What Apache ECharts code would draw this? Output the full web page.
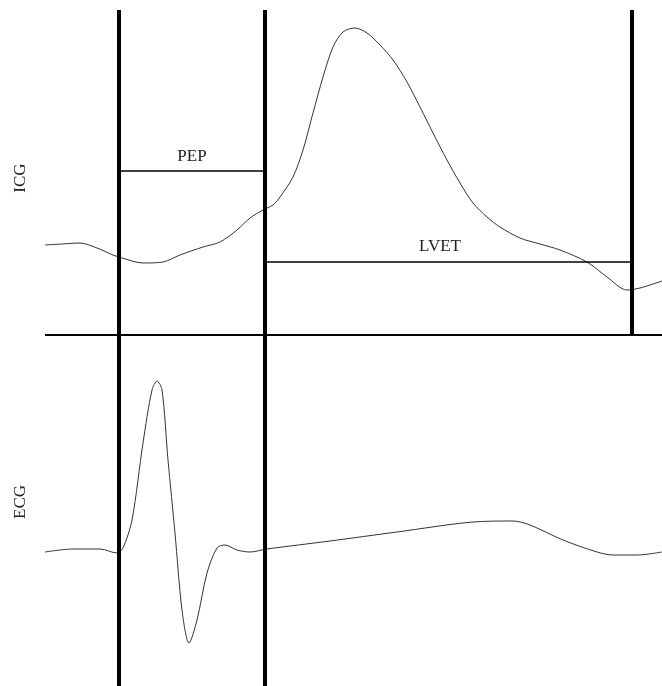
<!DOCTYPE html>
<html>
<head>
<meta charset="utf-8">
<script src="https://cdn.jsdelivr.net/npm/echarts@6/dist/echarts.min.js"></script>
<style>
  html, body { margin: 0; padding: 0; background: #fff; }
  #chart { width: 662px; height: 686px; }
</style>
</head>
<body>
<div id="chart"></div>
<script>
// time axis (sample position) and signal level (screen rows, top = 0)
const icgTime = [45, 62, 80, 97, 113, 122, 143, 163, 180, 203, 220, 237, 250, 263, 273, 280, 293, 303, 313, 323, 333, 343, 355, 367, 380, 393, 407, 420, 433, 447, 460, 473, 487, 500, 520, 540, 560, 587, 607, 627, 640, 662]
const icgLevel = [245, 244, 243, 248, 255, 258, 263, 262, 255, 247, 242, 230, 218, 210, 205, 197, 177, 150, 113, 77, 47, 32, 28, 33, 45, 60, 82, 107, 133, 160, 183, 203, 217, 227, 238, 244, 250, 262, 277, 290, 288, 281]

const ecgTime = [45, 73, 100, 117, 123, 132, 143, 152, 157, 162, 168, 175, 182, 189, 197, 207, 217, 225, 237, 250, 267, 330, 397, 473, 513, 530, 563, 597, 613, 637, 662]
const ecgLevel = [552, 549, 549, 553, 548, 520, 443, 390, 381, 390, 460, 533, 610, 643, 620, 573, 548, 545, 550, 552, 549, 541, 532, 522, 521, 525, 540, 552, 555, 555, 552]

// event markers: Q onset, B point (valve opening), X point (valve closing)
const qOnset = 119
const bPoint = 265
const xPoint = 632
const markerTop = 10
const panelSplit = 335
const pepLevel = 171
const lvetLevel = 262

const pairs = (xs, ys) => xs.map((x, i) => [x, ys[i]])

const chart = echarts.init(document.getElementById('chart'))

const seg = (data, width) => ({
  type: 'line',
  data: data,
  symbol: 'none',
  silent: true,
  lineStyle: { color: '#000', width: width },
  z: 3
})

const label = (text, x, y, rotate) => ({
  type: 'text', x: x, y: y, rotation: rotate ? Math.PI / 2 : 0,
  style: { text: text, font: '17px "Liberation Serif"', fill: '#222', align: 'center', verticalAlign: 'middle' }
})

chart.setOption({
  animation: false,
  grid: { left: 0, right: 0, top: 0, bottom: 0 },
  xAxis: { type: 'value', min: 0, max: 662, show: false },
  yAxis: { type: 'value', min: 0, max: 686, inverse: true, show: false },
  graphic: [
    label('ICG', 21, 178, true),
    label('ECG', 21, 502, true),
    label('PEP', (qOnset + bPoint) / 2, 157),
    label('LVET', 440, 247)
  ],
  series: [
    {
      type: 'line',
      data: pairs(icgTime, icgLevel),
      smooth: 0.3,
      symbol: 'none',
      lineStyle: { color: '#333', width: 1 },
      z: 2
    },
    {
      type: 'line',
      data: pairs(ecgTime, ecgLevel),
      smooth: 0.3,
      symbol: 'none',
      lineStyle: { color: '#333', width: 1 },
      z: 2
    },
    seg([[45, panelSplit], [662, panelSplit]], 2),
    seg([[qOnset, markerTop], [qOnset, 686]], 4),
    seg([[bPoint, markerTop], [bPoint, 686]], 4),
    seg([[xPoint, markerTop], [xPoint, panelSplit]], 4),
    seg([[qOnset, pepLevel], [bPoint, pepLevel]], 1.5),
    seg([[bPoint, lvetLevel], [xPoint, lvetLevel]], 1.5)
  ]
})
</script>
</body>
</html>
